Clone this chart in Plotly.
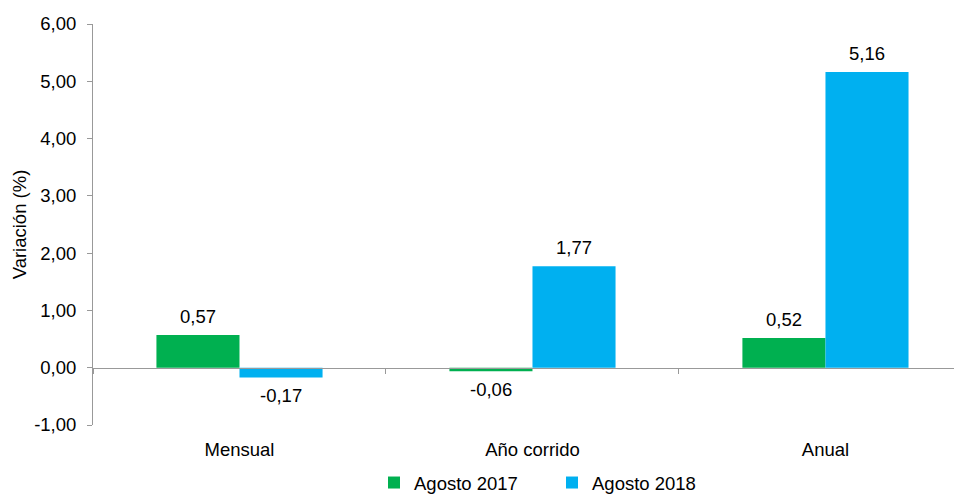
import plotly.graph_objects as go

categories = ["Mensual", "Año corrido", "Anual"]
series_names = ["Agosto 2017", "Agosto 2018"]
values_2017 = [0.57, -0.06, 0.52]
values_2018 = [-0.17, 1.77, 5.16]
colors = ["#00B050", "#00B0F0"]

y_min, y_max = -1, 6
y_ticks = list(range(y_min, y_max + 1))
bargap = 0.433
FONT = "Liberation Sans, Arial, sans-serif"
FS = 18.5

# the page body adds an 8px margin; compensate in figure size/margins
W, H = 954, 494


def fmt(v):
    return f"{v:.2f}".replace(".", ",")


fig = go.Figure()
all_series = [values_2017, values_2018]
for name, vals, col in zip(series_names, all_series, colors):
    fig.add_trace(go.Bar(
        x=categories, y=vals, name=name,
        marker=dict(color=col, line=dict(width=0)),
    ))

# data labels as annotations at data coordinates
bar_w = (1 - bargap) / 2
annotations = []
for s, vals in enumerate(all_series):
    off = (s - 0.5) * bar_w
    for i, v in enumerate(vals):
        annotations.append(dict(
            x=i + off, y=v, xref="x", yref="y",
            text=fmt(v),
            showarrow=False,
            yanchor="bottom" if v >= 0 else "top",
            yshift=6 if v >= 0 else -6,
            font=dict(family=FONT, size=FS, color="#000000"),
        ))

fig.update_layout(
    width=W, height=H,
    margin=dict(l=85, r=0, t=16, b=77),
    paper_bgcolor="white", plot_bgcolor="white",
    barmode="group", bargap=bargap, bargroupgap=0,
    font=dict(family=FONT, size=FS, color="#000000"),
    showlegend=True,
    legend=dict(orientation="h", x=366 / W, xref="container", xanchor="left",
                y=0, yref="container", yanchor="bottom",
                font=dict(family=FONT, size=FS, color="#000000"),
                itemwidth=30, entrywidth=133, entrywidthmode="pixels"),
    annotations=annotations,
)
fig.update_xaxes(
    type="category",
    range=[-0.5, 2.466],
    anchor="free", position=(0 - y_min) / (y_max - y_min),
    showline=True, linecolor="#999999", linewidth=1,
    ticks="outside", tickson="boundaries", ticklen=5, tickcolor="#999999",
    ticklabelstandoff=65,
    showgrid=False, zeroline=False, automargin=False,
    tickfont=dict(family=FONT, size=FS, color="#000000"),
)
fig.update_yaxes(
    range=[y_min, y_max],
    tickvals=y_ticks, ticktext=[fmt(v) for v in y_ticks],
    showline=True, linecolor="#999999", linewidth=1,
    ticks="outside", ticklen=5, tickcolor="#999999",
    ticklabelstandoff=7,
    showgrid=False, zeroline=False, automargin=False,
    tickfont=dict(family=FONT, size=FS, color="#000000"),
    title=dict(text="Variación (%)", font=dict(family=FONT, size=FS, color="#000000"), standoff=2),
)

fig.write_html("out.html")
